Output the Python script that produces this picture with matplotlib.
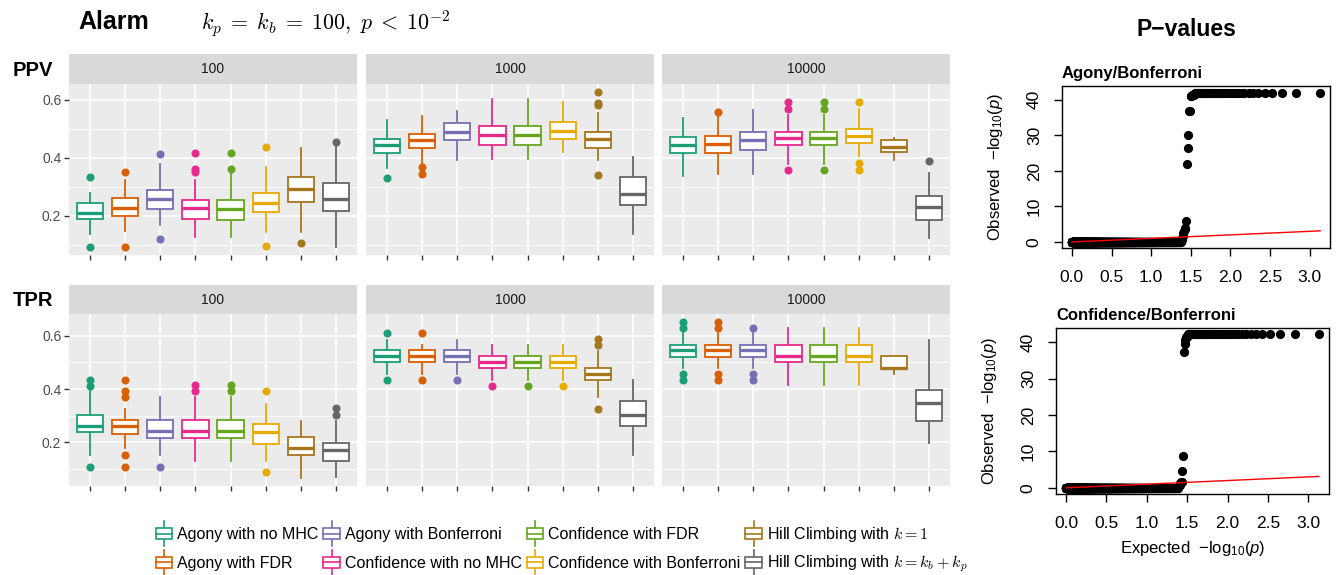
import numpy as np
import matplotlib.pyplot as plt
from matplotlib.legend_handler import HandlerBase
from matplotlib.patches import Rectangle
from matplotlib.lines import Line2D

plt.rcParams['font.family'] = ['Liberation Sans', 'DejaVu Sans']
plt.rcParams['mathtext.fontset'] = 'cm'
plt.rcParams['mathtext.rm'] = 'Liberation Sans'
plt.rcParams['mathtext.it'] = 'Liberation Sans:italic'
plt.rcParams['mathtext.bf'] = 'Liberation Sans:bold'

methods = ['Agony with no MHC', 'Agony with FDR', 'Agony with Bonferroni',
           'Confidence with no MHC', 'Confidence with FDR', 'Confidence with Bonferroni',
           'Hill Climbing with $k=1$', 'Hill Climbing with $k=k_b+k_p$']
colors = ['#1B9E77', '#D95F02', '#7570B3', '#E7298A',
          '#66A61E', '#E6AB02', '#A6761D', '#666666']
sizes = ['100', '1000', '10000']

# (lower whisker, q1, median, q3, upper whisker) per method
ppv_100 = [(0.138, 0.189, 0.211, 0.244, 0.278), (0.149, 0.198, 0.228, 0.260, 0.324),
           (0.167, 0.225, 0.257, 0.290, 0.379), (0.126, 0.190, 0.226, 0.255, 0.324),
           (0.126, 0.187, 0.225, 0.256, 0.355), (0.144, 0.215, 0.244, 0.280, 0.368),
           (0.144, 0.247, 0.292, 0.333, 0.433), (0.092, 0.218, 0.257, 0.313, 0.454)]
ppv_100_out = [[0.333, 0.092], [0.353, 0.094], [0.414, 0.120], [0.417, 0.362, 0.351],
               [0.417, 0.361], [0.439, 0.097], [0.107], [0.454]]

ppv_1000 = [(0.364, 0.417, 0.444, 0.464, 0.531), (0.379, 0.434, 0.462, 0.482, 0.543),
            (0.393, 0.461, 0.491, 0.521, 0.563), (0.397, 0.445, 0.480, 0.509, 0.603),
            (0.397, 0.445, 0.480, 0.509, 0.603), (0.422, 0.466, 0.494, 0.523, 0.594),
            (0.393, 0.433, 0.466, 0.491, 0.556), (0.138, 0.239, 0.276, 0.334, 0.402)]
ppv_1000_out = [[0.332], [0.367, 0.344], [], [], [], [], [0.628, 0.591, 0.582, 0.340], []]

ppv_10000 = [(0.339, 0.417, 0.445, 0.471, 0.537), (0.345, 0.416, 0.448, 0.475, 0.545),
             (0.345, 0.428, 0.462, 0.491, 0.567), (0.379, 0.443, 0.467, 0.491, 0.548),
             (0.379, 0.443, 0.467, 0.491, 0.548), (0.405, 0.453, 0.475, 0.499, 0.568),
             (0.394, 0.422, 0.438, 0.462, 0.468), (0.124, 0.187, 0.230, 0.268, 0.347)]
ppv_10000_out = [[], [0.560], [], [0.592, 0.568, 0.359], [0.592, 0.568, 0.359],
                 [0.592, 0.382, 0.359], [], [0.390]]

tpr_100 = [(0.153, 0.238, 0.262, 0.304, 0.391), (0.177, 0.233, 0.262, 0.283, 0.326),
           (0.153, 0.218, 0.241, 0.283, 0.370), (0.131, 0.218, 0.241, 0.283, 0.370),
           (0.131, 0.218, 0.241, 0.283, 0.370), (0.131, 0.195, 0.240, 0.267, 0.345),
           (0.065, 0.153, 0.177, 0.219, 0.282), (0.068, 0.131, 0.171, 0.196, 0.282)]
tpr_100_out = [[0.435, 0.413, 0.108], [0.435, 0.392, 0.370, 0.152, 0.108], [0.108],
               [0.414, 0.391], [0.414, 0.391], [0.391, 0.087], [], [0.330, 0.304]]

tpr_1000 = [(0.458, 0.501, 0.523, 0.545, 0.586), (0.458, 0.501, 0.523, 0.545, 0.564),
            (0.458, 0.501, 0.523, 0.545, 0.586), (0.435, 0.478, 0.502, 0.523, 0.564),
            (0.435, 0.478, 0.502, 0.523, 0.564), (0.435, 0.478, 0.502, 0.523, 0.564),
            (0.370, 0.435, 0.455, 0.479, 0.543), (0.153, 0.260, 0.304, 0.355, 0.435)]
tpr_1000_out = [[0.609, 0.435], [0.609, 0.435], [0.435], [0.413], [0.413], [0.413],
                [0.589, 0.564, 0.326], []]

tpr_10000 = [(0.479, 0.522, 0.545, 0.567, 0.609), (0.479, 0.522, 0.545, 0.567, 0.609),
             (0.479, 0.522, 0.545, 0.567, 0.609), (0.415, 0.501, 0.523, 0.567, 0.630),
             (0.415, 0.501, 0.523, 0.567, 0.630), (0.415, 0.501, 0.523, 0.567, 0.630),
             (0.458, 0.477, 0.479, 0.523, 0.523), (0.196, 0.282, 0.347, 0.397, 0.584)]
tpr_10000_out = [[0.653, 0.630, 0.458, 0.435], [0.653, 0.630, 0.458, 0.435],
                 [0.630, 0.458, 0.435], [], [], [], [], []]

# QQ plots: sorted observed -log10(p), as value / repeat count
n_tests = 1349
agony_obs = [42.0, 41.5, 41.0, 37.0, 30.0, 26.5, 22.0, 6.0, 4.0, 3.6, 3.2, 2.5, 1.8, 1.2, 0.6, 0.0]
agony_cnt = [38, 3, 2, 2, 1, 1, 1, 1, 1, 1, 1, 1, 1, 1, 1]
conf_obs = [42.2, 41.5, 40.5, 39.5, 37.2, 8.8, 4.5, 1.6, 1.2, 0.8, 0.4, 0.0]
conf_cnt = [42, 2, 1, 1, 1, 1, 1, 2, 1, 1, 1]

W, H = 1336, 575
fig = plt.figure(figsize=(W / 100, H / 100), dpi=100)


def add_px_axes(x0, y0, x1, y1):
    return fig.add_axes([x0 / W, 1 - y1 / H, (x1 - x0) / W, (y1 - y0) / H])


class BoxKey(HandlerBase):
    def create_artists(self, legend, orig_handle, xdescent, ydescent,
                       width, height, fontsize, trans):
        c = orig_handle.get_color()
        x0, y0 = -xdescent, -ydescent
        xm = x0 + width / 2
        arts = [Line2D([xm, xm], [y0, y0 + 0.28 * height], color=c, lw=1.2),
                Line2D([xm, xm], [y0 + 0.72 * height, y0 + height], color=c, lw=1.2),
                Rectangle((x0, y0 + 0.28 * height), width, 0.44 * height,
                          facecolor='white', edgecolor=c, lw=1.2),
                Line2D([x0, x0 + width], [y0 + 0.5 * height] * 2, color=c, lw=1.2)]
        for a in arts:
            a.set_transform(trans)
        return arts


positions = np.arange(1, 9)
cols_px = [(69, 357), (366, 654), (662, 950)]
rows = [('PPV', (54, 84, 255), [ppv_100, ppv_1000, ppv_10000],
         [ppv_100_out, ppv_1000_out, ppv_10000_out], (0.065, 0.655)),
        ('TPR', (285, 314, 486), [tpr_100, tpr_1000, tpr_10000],
         [tpr_100_out, tpr_1000_out, tpr_10000_out], (0.036, 0.682))]

for label, (sy0, sy1, py1), facets, outs, ylim in rows:
    fig.text(13 / W, 1 - (sy0 + 16) / H, label, fontsize=14.5, fontweight='bold',
             va='center', ha='left')
    for j, (x0, x1) in enumerate(cols_px):
        sax = add_px_axes(x0, sy0, x1, sy1)
        sax.set_facecolor('#D9D9D9')
        sax.set_xticks([])
        sax.set_yticks([])
        for s in sax.spines.values():
            s.set_visible(False)
        sax.text(0.5, 0.5, sizes[j], transform=sax.transAxes, ha='center',
                 va='center', fontsize=10, color='#1A1A1A')

        ax = add_px_axes(x0, sy1, x1, py1)
        ax.set_facecolor('#EBEBEB')
        for s in ax.spines.values():
            s.set_visible(False)
        ax.set_axisbelow(True)
        stats = [dict(whislo=s[0], q1=s[1], med=s[2], q3=s[3], whishi=s[4], fliers=f)
                 for s, f in zip(facets[j], outs[j])]
        bp = ax.bxp(stats, positions=positions, widths=0.75, showcaps=False,
                    patch_artist=True, manage_ticks=False)
        for i, c in enumerate(colors):
            bp['boxes'][i].set(facecolor='white', edgecolor=c, linewidth=1.3, zorder=3)
            bp['medians'][i].set(color=c, linewidth=2.4, solid_capstyle='butt', zorder=4)
            for w in bp['whiskers'][2 * i:2 * i + 2]:
                w.set(color=c, linewidth=1.3, zorder=2)
            bp['fliers'][i].set(marker='o', markerfacecolor=c, markeredgecolor=c,
                                markersize=4.8, zorder=3)
        ax.set_xlim(0.4, 8.6)
        ax.set_ylim(*ylim)
        ax.set_xticks(positions)
        ax.set_xticklabels([])
        ax.set_yticks([0.2, 0.4, 0.6])
        ax.set_yticks([0.1, 0.3, 0.5], minor=True)
        ax.grid(which='major', color='white', lw=1.2)
        ax.grid(which='minor', axis='y', color='white', lw=0.6)
        ax.tick_params(axis='both', which='major', length=3.5, width=1, color='#333333',
                       labelcolor='#4D4D4D', labelsize=10, pad=2)
        ax.tick_params(axis='y', which='minor', length=0)
        if j == 0:
            ax.set_yticklabels(['0.2', '0.4', '0.6'])
        else:
            ax.tick_params(axis='y', which='major', length=0, labelleft=False)

fig.text(78 / W, 1 - 22 / H, 'Alarm', fontsize=18, fontweight='bold', va='center')
fig.text(201 / W, 1 - 24 / H, r'$k_p\;=\;k_b\;=\;100,\;p\;<\;10^{-2}$', fontsize=15.8,
         va='center')

handles = [Line2D([], [], color=c) for c in colors]
fig.legend(handles, methods, ncol=4, loc='center left', bbox_to_anchor=(146 / W, 1 - 548 / H),
           frameon=False, fontsize=11.5, handler_map={Line2D: BoxKey()},
           handlelength=1.05, handleheight=1.95, handletextpad=0.3,
           columnspacing=0.3, labelspacing=0.3, borderpad=0.1)

# P-value QQ plots
fig.text(1186 / W, 1 - 29 / H, 'P\u2212values', fontsize=16.5, fontweight='bold',
         ha='center', va='center')
expected = -np.log10(np.arange(1, n_tests + 1) / (n_tests + 1))
qq = [((1062, 86, 1330, 248), agony_obs, agony_cnt, 'Agony/Bonferroni'),
      ((1056, 328, 1329, 494), conf_obs, conf_cnt, 'Confidence/Bonferroni')]
for k, (box, vals, cnts, title) in enumerate(qq):
    counts = cnts + [n_tests - sum(cnts)]
    observed = np.repeat(vals, counts)
    ax = add_px_axes(*box)
    ax.plot(expected, observed, 'o', color='black', markersize=5.6, zorder=2)
    ax.plot([0, expected[0]], [0, expected[0]], color='red', lw=1, zorder=3)
    ax.set_xlim(-0.125, 3.255)
    ax.set_ylim(-1.7, 43.9)
    ax.set_xticks([0, 0.5, 1.0, 1.5, 2.0, 2.5, 3.0])
    ax.set_xticklabels(['0.0', '0.5', '1.0', '1.5', '2.0', '2.5', '3.0'])
    ax.set_yticks([0, 10, 20, 30, 40])
    ax.tick_params(axis='both', length=5.5, width=1, labelsize=12.5, pad=10)
    ax.tick_params(axis='y', labelrotation=90, pad=9)
    for lab in ax.get_yticklabels():
        lab.set_va('center')
    for s in ax.spines.values():
        s.set_linewidth(1)
    ax.set_title(title, loc='left', fontsize=12, fontweight='bold', pad=6)
    ax.set_ylabel('Observed  $-\\mathrm{log}_{10}(p)$', fontsize=12,
                  math_fontfamily='custom', labelpad=16)
    if k == 1:
        ax.set_xlabel('Expected  $-\\mathrm{log}_{10}(p)$', fontsize=12,
                      math_fontfamily='custom', labelpad=6)

fig.savefig('out.png', dpi=100)
